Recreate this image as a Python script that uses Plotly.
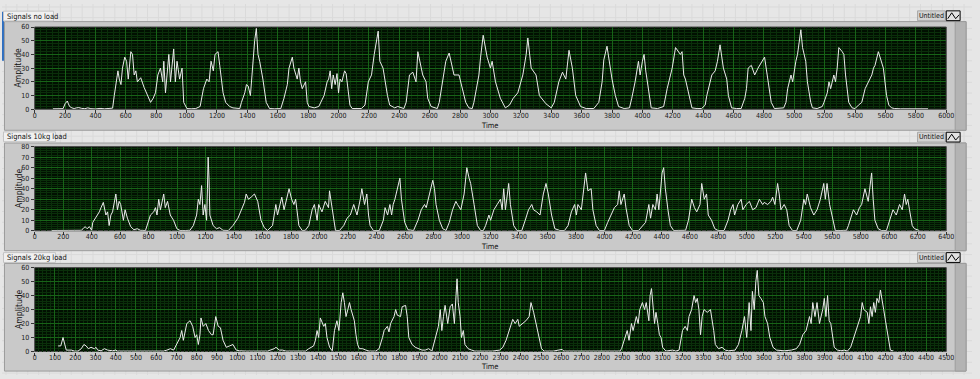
import plotly.graph_objects as go

W, H = 980, 379

# ---------------- data ----------------
t_noload = [120,150,187,200,209,215,222,230,245,260,275,290,310,330,350,370,400,430,460,490,513,
    524,535,548,557,568,578,593,605,616,633,644,655,666,676,698,720,741,763,780,795,811,828,843,850,861,872,883,894,905,915,926,937,954,970,981,1002,1030,1060,1089,
    1111,1133,1148,1161,1176,1187,1207,1218,1240,1257,1283,1305,1350,
    1361,1383,1394,1405,1420,1431,1448,1459,1470,1481,1502,1524,1546,1580,1620,
    1641,1663,1674,1696,1706,1717,1728,1739,1750,1761,1783,1794,1805,1840,1870,1905,1925,
    1935,1945,1955,1965,1978,1990,2000,2010,2022,2040,2050,2065,2075,2090,2120,2150,
    2174,2196,2217,2235,2261,2272,2293,2304,2322,2337,2370,2390,2410,2430,
    2445,2467,2489,2510,2522,2554,2576,2587,2609,2630,2650,
    2663,2685,2706,2728,2760,2793,2815,2837,2858,2880,
    2891,2924,2935,2952,2978,3000,3011,3033,3065,3098,3125,3150,3180,3213,3235,3246,3268,3300,3322,3365,3400,
    3420,3450,3474,3496,3517,3539,3561,3593,3630,3680,
    3713,3735,3746,3767,3789,3800,3822,3843,3880,3915,
    3930,3952,3974,3985,4000,4011,4022,4033,4045,4058,4100,
    4140,4163,4196,4218,4250,4261,4272,4283,4305,4326,4360,4390,
    4413,4424,4457,4479,4494,4511,4533,4555,4566,4587,4620,4650,
    4674,4685,4696,4717,4739,4761,4804,4826,4848,4869,4900,4930,
    4945,4956,4978,4989,5010,5021,5043,5054,5075,5086,5108,5119,5150,
    5184,5195,5217,5228,5239,5260,5271,5282,5293,5315,5326,5337,5358,5380,5400,
    5422,5444,5466,5488,5510,5521,5531,5553,5570,5586,5607,5622,5640,5660,5700,5750,5800,5880]
a_noload = [0.3,0.3,0.4,4,5,6,4,2,1,0.5,1,1.2,0.6,0.4,1,0.4,0.2,0.6,0.3,0.3,0.8,
    10,20,28,22,18,30,38,35,22,42,40,25,28,20,23,16,10,5,8,12,25,30,20,35,12,30,40,20,32,44,20,35,22,30,5,0.5,0.3,0.5,2,
    15,22,20,35,28,40,42,32,12,5,2,1,0.5,
    5,12,18,17,10,28,50,59,40,35,22,5,0.5,0.3,0.5,
    8,18,30,38,30,25,22,30,20,15,20,5,2,1,2,10,20,
    22,28,15,25,18,26,12,22,20,28,26,10,3,0.5,0.3,0.5,
    3,20,25,40,57,35,30,22,10,3,1,2,1,0.5,
    5,25,27,20,42,25,20,8,2,1,0.5,
    5,20,35,41,25,25,15,5,1,0.5,
    5,25,38,54,38,30,35,20,8,1,3,8,12,25,40,52,30,25,10,4,1,
    5,20,27,22,43,30,10,2,0.5,0.5,
    5,20,36,46,30,22,10,2,0.5,1,
    8,20,35,25,35,40,28,20,8,1,0.5,
    2,15,30,45,40,42,25,22,10,1,0.5,0.5,
    3,10,25,28,35,47,30,22,10,1,0.5,0.5,
    8,15,30,32,25,30,38,20,5,0.5,0.5,1,
    5,15,25,20,35,40,58,45,35,20,5,1,0.5,
    2,5,12,20,15,25,20,30,45,42,40,25,5,1,0.5,
    3,5,15,20,25,30,32,42,35,30,10,3,1,0.5,0.3,0.3,0.3,0.3]

t_10kg = [118,160,200,250,300,327,340,354,368,384,400,408,431,454,466,482,500,512,523,535,547,558,570,581,593,604,623,635,651,674,697,720,743,778,
    790,813,836,848,859,871,883,894,906,917,933,952,975,998,1021,1060,1090,
    1114,1137,1149,1160,1172,1183,1195,1207,1213,1218,1224,1230,1253,1276,1299,1322,1360,
    1392,1427,1450,1473,1485,1501,1520,1543,1566,1589,1612,1635,
    1670,1693,1705,1716,1735,1751,1763,1786,1804,1820,1832,1843,1855,1878,1900,
    1925,1948,1964,1983,1994,2017,2040,2063,2070,2089,2112,2140,
    2170,2193,2216,2240,2263,2286,2297,2316,2332,2344,2355,2378,2420,
    2448,2460,2478,2494,2506,2517,2529,2547,2564,2575,2587,2598,2621,2660,
    2691,2714,2737,2749,2772,2795,2807,2818,2841,2865,2888,
    2911,2934,2957,2969,2992,3015,3034,3050,3061,3085,3108,3131,3150,
    3166,3189,3201,3224,3247,3270,3282,3293,3305,3316,3328,3340,3363,3386,3420,
    3444,3467,3490,3502,3525,3548,3571,3590,3606,3629,3652,3687,3720,
    3745,3768,3791,3803,3814,3838,3854,3868,3884,3907,3919,3942,3965,4000,
    4023,4046,4070,4093,4104,4116,4139,4151,4174,4197,4240,
    4289,4312,4324,4340,4358,4370,4382,4405,4416,4428,4446,4463,4486,4530,4570,
    4590,4613,4632,4648,4671,4683,4701,4717,4729,4752,4775,4798,4840,
    4868,4886,4903,4914,4937,4960,4972,4995,5018,5041,5064,5088,5111,5122,5146,5169,5181,5197,5216,5227,5239,5262,5280,5297,5320,5350,
    5378,5400,5412,5424,5447,5470,5493,5516,5540,5551,5563,5581,5598,5621,5660,5700,
    5713,5736,5748,5771,5790,5806,5829,5852,5864,5876,5887,5899,5922,5945,5980,
    6003,6026,6049,6072,6091,6107,6119,6130,6142,6161,6177,6200,6210]
a_10kg = [0.3,0.3,0.3,0.3,0.3,0.5,2,4,2,4,0.5,8,13,18,22,27,15,18,5,15,18,25,35,20,28,25,10,20,12,4,1,2,0.5,0.3,
    5,15,18,22,15,30,20,28,35,22,28,15,10,2,0.3,0.3,0.5,
    5,15,30,25,43,15,25,10,40,70,50,15,5,2,3,0.5,0.3,
    5,12,20,27,35,30,32,35,28,10,3,0.3,
    5,25,15,22,32,20,28,40,30,25,30,15,5,0.3,0.5,
    5,20,25,10,25,18,28,22,38,20,0.3,0.3,
    5,12,15,25,15,30,40,25,35,15,5,0.3,0.3,
    10,22,15,25,15,25,30,42,50,30,20,8,1,0.3,
    10,20,25,22,35,48,40,25,10,2,0.3,
    8,20,28,25,20,35,60,50,45,25,5,0.3,0.3,
    5,15,10,20,25,30,20,40,20,35,45,25,5,0.3,0.3,
    10,20,25,20,18,15,35,45,35,15,2,0.3,0.3,
    5,18,25,15,25,20,40,55,38,40,20,5,0.3,0.3,
    8,15,22,25,38,25,35,22,5,0.3,0.3,
    8,25,12,25,20,35,20,55,60,40,20,5,0.3,0.3,0.5,
    10,30,22,18,25,45,30,35,15,10,2,0.3,0.3,
    10,20,25,15,25,30,20,25,28,20,22,30,25,27,25,28,32,25,45,35,20,25,20,5,0.3,0.3,
    10,30,25,35,22,15,20,30,45,30,45,25,15,0.3,0.3,0.5,
    5,15,20,15,22,25,40,28,45,55,30,10,2,0.3,0.3,
    10,20,15,25,20,35,25,30,20,5,2,1,0.3]

t_20kg = [116,129,140,148,156,181,197,214,230,243,254,265,278,295,303,311,328,344,360,384,400,409,450,500,550,600,637,
    653,670,686,702,718,726,734,751,767,780,792,800,808,816,821,832,845,858,873,881,894,906,917,930,946,962,979,995,1011,1044,1100,1150,
    1182,1191,1208,1224,1240,1300,1337,
    1353,1377,1386,1394,1402,1410,1427,1435,1443,
    1456,1469,1480,1492,1502,1513,1521,1529,1537,1546,1554,1562,1578,1586,1594,1603,1619,1635,1651,1684,
    1700,1717,1725,1741,1749,1757,1774,1782,1790,1806,1814,1831,1839,1847,1863,1879,1896,1912,1928,1945,1961,
    1969,1980,1993,2002,2010,2018,2026,2039,2051,2062,2072,2080,2085,2091,2100,2107,2116,2124,2140,2157,2173,2220,2260,
    2295,2311,2327,2344,2360,2372,2385,2392,2409,2425,2441,2450,2463,2474,2490,2502,2515,2560,2604,2612,2680,2750,2820,2889,
    2897,2913,2925,2934,2946,2954,2970,2979,2987,3000,3011,3019,3032,3038,3045,3060,3067,3076,3084,3092,3100,3116,3149,3165,3181,
    3198,3211,3222,3230,3243,3255,3263,3271,3279,3287,3295,3304,3320,3336,3352,3360,3376,3393,3409,3425,3458,
    3474,3491,3504,3515,3527,3536,3543,3552,3560,3567,3575,3585,3597,3605,3618,3629,3645,3662,3700,3735,3760,
    3776,3792,3808,3825,3833,3841,3852,3862,3874,3882,3890,3898,3906,3914,3922,3930,3939,3947,3963,3980,3996,4012,
    4028,4044,4061,4077,4085,4093,4110,4118,4126,4134,4142,4150,4158,4167,4175,4183,4191,4200,4208,4216,4224,4240]
a_20kg = [4,4,10,5,1,1,0.3,0.3,2,5,4,2,3,2,3,1,0.5,2,1,0.5,1,0.3,0.3,0.3,0.3,0.3,0.3,
    1,2,1,5,10,15,8,20,22,18,10,12,5,12,24,18,20,15,12,12,25,18,17,8,3,4,5,1,0.5,0.3,0.3,0.3,
    2,3,1,1,0.3,0.3,0.3,
    2,4,8,15,10,24,18,20,10,
    3,0.5,15,22,15,35,42,35,25,30,35,30,22,12,5,2,2,1,0.3,0.3,
    2,10,15,18,14,20,25,30,26,25,32,33,25,10,5,3,2,1,1,2,0.3,
    5,10,18,30,15,25,33,20,32,34,20,40,52,35,25,10,15,5,2,1,0.3,0.3,0.3,
    1,3,8,15,23,20,23,18,20,22,25,35,28,20,10,2,0.3,0.3,1.5,0.3,0.3,0.3,0.3,0.3,
    2,10,15,8,20,15,25,20,30,35,30,35,22,40,45,20,28,20,12,10,3,0.3,1,0.3,1,
    15,18,15,25,30,40,35,38,30,12,25,30,28,30,15,5,2,3,1,0.5,1,
    5,15,25,10,35,15,43,30,50,58,40,38,35,25,20,10,3,1,0.5,1,2,
    5,12,15,25,20,35,25,35,20,25,30,38,25,40,22,20,10,3,1,0.5,1,0.3,
    3,10,18,25,35,30,28,20,32,25,35,28,38,35,44,35,30,22,15,5,1,0.3]

panel_titles = ["Signals no load", "Signals 10kg load", "Signals 20kg load"]
x_max = [6000, 6400, 4500]
x_dtick = [200, 200, 100]
y_max = [60, 80, 60]
series_t = [t_noload, t_10kg, t_20kg]
series_a = [a_noload, a_10kg, a_20kg]

# ---------------- layout geometry (pixels) ----------------
def fx(x): return x / W
def fy(y): return 1 - y / H

PL, PR = 33, 954
geo = [
    dict(top=23.5, bot=107.5, frame=(18, 129), title_y=12.3, leg=(7, 17), time_y=124.5),
    dict(top=145.7, bot=231.7, frame=(142, 252), title_y=135.7, leg=(131, 141), time_y=247.7),
    dict(top=269.3, bot=355.0, frame=(265, 375), title_y=259.0, leg=(254, 264), time_y=370.7),
]

FONT = "Liberation Sans Narrow, Arial Narrow, DejaVu Sans Condensed, Liberation Sans, Arial, sans-serif"
BG = "#e6e6e6"
PANEL = "#c9c9c9"
PLOTBG = "#011001"
MAJ = "#176317"
MIN = "#0a2f0a"

fig = go.Figure()
shapes = []
annotations = []

# background pattern
for gx in range(4, W, 11):
    shapes.append(dict(type="line", xref="paper", yref="paper", x0=fx(gx), x1=fx(gx), y0=0, y1=1,
                       line=dict(color="#dadada", width=1), layer="below"))
for gy in range(3, H, 11):
    shapes.append(dict(type="line", xref="paper", yref="paper", x0=0, x1=1, y0=fy(gy), y1=fy(gy),
                       line=dict(color="#dadada", width=1), layer="below"))

# blue selection bar at far left
shapes.append(dict(type="rect", xref="paper", yref="paper", x0=0, x1=fx(2), y0=fy(58), y1=fy(8),
                   fillcolor="#2f6fc0", line=dict(width=0), layer="below"))

for i, g in enumerate(geo):
    f0, f1 = g["frame"]
    # panel frame
    shapes.append(dict(type="rect", xref="paper", yref="paper", x0=fx(2.5), x1=fx(974), y0=fy(f1), y1=fy(f0),
                       fillcolor=PANEL, line=dict(color="#9c9c9c", width=1), layer="below"))
    shapes.append(dict(type="rect", xref="paper", yref="paper", x0=fx(963), x1=fx(974), y0=fy(f1), y1=fy(f0),
                       fillcolor="#b3b3b3", line=dict(color="#9c9c9c", width=1), layer="below"))
    # plot area
    shapes.append(dict(type="rect", xref="paper", yref="paper", x0=fx(PL), x1=fx(PR), y0=fy(g["bot"]), y1=fy(g["top"]),
                       fillcolor=PLOTBG, line=dict(color="#4a4a4a", width=1), layer="below"))
    # title label box
    shapes.append(dict(type="rect", xref="paper", yref="paper", x0=fx(1.5), x1=fx(52 if i == 0 else 54),
                       y0=fy(g["title_y"] + 5), y1=fy(g["title_y"] - 5),
                       fillcolor="#f0f0f0", line=dict(color="#c4c4c4", width=1), layer="below"))
    annotations.append(dict(xref="paper", yref="paper", x=fx(3), y=fy(g["title_y"]), xanchor="left", yanchor="middle",
                            text=panel_titles[i], showarrow=False, font=dict(family=FONT, size=7.5, color="#111")))
    # legend "Untitled"
    l0, l1 = g["leg"]
    shapes.append(dict(type="rect", xref="paper", yref="paper", x0=fx(925), x1=fx(953), y0=fy(l1), y1=fy(l0),
                       fillcolor="#d2d2d2", line=dict(color="#a8a8a8", width=1), layer="below"))
    annotations.append(dict(xref="paper", yref="paper", x=fx(939), y=fy((l0 + l1) / 2), xanchor="center", yanchor="middle",
                            text="Untitled", showarrow=False, font=dict(family=FONT, size=7, color="#111")))
    shapes.append(dict(type="rect", xref="paper", yref="paper", x0=fx(954), x1=fx(968), y0=fy(l1), y1=fy(l0),
                       fillcolor="#e2e2e2", line=dict(color="#000", width=1), layer="above"))
    ym = (l0 + l1) / 2
    shapes.append(dict(type="path", xref="paper", yref="paper",
                       path=f"M {fx(955.5)} {fy(ym+3)} L {fx(959.5)} {fy(ym-3)} L {fx(963.5)} {fy(ym+3)} L {fx(967)} {fy(ym-1)}",
                       line=dict(color="#000", width=1), layer="above"))
    # axis titles
    annotations.append(dict(xref="paper", yref="paper", x=fx(16.5), y=fy((g["top"] + g["bot"]) / 2), xanchor="center", yanchor="middle",
                            text="Amplitude", textangle=-90, showarrow=False, font=dict(family=FONT, size=8.5, color="#111")))
    annotations.append(dict(xref="paper", yref="paper", x=fx((PL + PR) / 2), y=fy(g["time_y"]), xanchor="center", yanchor="middle",
                            text="Time", showarrow=False, font=dict(family=FONT, size=7.5, color="#111")))

    sfx = "" if i == 0 else str(i + 1)
    fig.add_trace(go.Scatter(x=series_t[i], y=series_a[i], mode="lines",
                             line=dict(color="#ececec", width=1), xaxis="x" + sfx, yaxis="y" + sfx,
                             showlegend=False, hoverinfo="skip"))
    xa = dict(domain=[fx(PL), fx(PR)], range=[0, x_max[i]], dtick=x_dtick[i], tick0=0, anchor="y" + sfx,
              showgrid=True, gridcolor=MAJ, gridwidth=1,
              minor=dict(dtick=x_dtick[i] / 5, showgrid=True, gridcolor=MIN, gridwidth=1),
              ticks="outside", ticklen=3, tickcolor="#333", tickwidth=1, ticklabelstandoff=-4,
              tickfont=dict(family=FONT, size=7, color="#1a1a1a"),
              showline=False, zeroline=False, fixedrange=True)
    ya = dict(domain=[fy(g["bot"]), fy(g["top"])], range=[0, y_max[i]], dtick=10, tick0=0, anchor="x" + sfx,
              showgrid=True, gridcolor=MAJ, gridwidth=1,
              minor=dict(dtick=2, showgrid=True, gridcolor=MIN, gridwidth=1),
              ticks="outside", ticklen=3, tickcolor="#333", tickwidth=1,
              tickfont=dict(family=FONT, size=7, color="#1a1a1a"),
              showline=False, zeroline=False, fixedrange=True)
    fig.layout["xaxis" + sfx] = xa
    fig.layout["yaxis" + sfx] = ya

fig.update_layout(width=W, height=H, margin=dict(l=0, r=0, t=0, b=0),
                  paper_bgcolor=BG, plot_bgcolor="rgba(0,0,0,0)",
                  shapes=shapes, annotations=annotations, showlegend=False,
                  font=dict(family=FONT, size=7, color="#111"))

fig.write_html("out.html", config={"displayModeBar": False, "staticPlot": True})
with open("out.html", encoding="utf-8") as f:
    html = f.read()
html = html.replace("<head>", "<head><style>html,body{margin:0;padding:0;overflow:hidden;}</style>", 1)
with open("out.html", "w", encoding="utf-8") as f:
    f.write(html)
